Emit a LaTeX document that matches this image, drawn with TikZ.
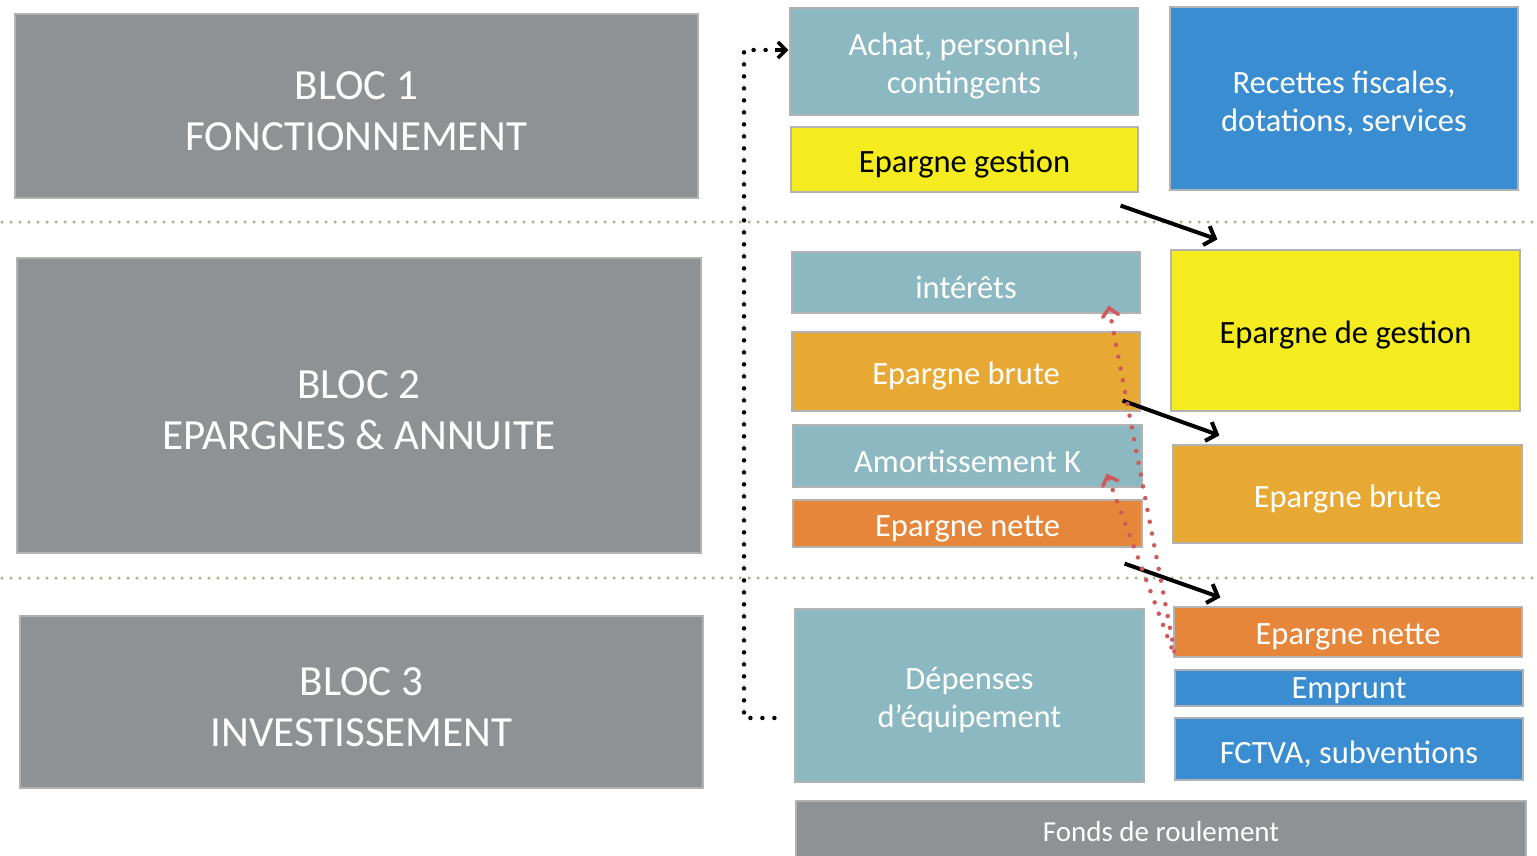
\documentclass[tikz,border=0pt]{standalone}
\usepackage{fontspec}
\setmainfont{Carlito}
\usetikzlibrary{arrows.meta,calc}
\definecolor{blocgray}{HTML}{8E9294}
\definecolor{tealbox}{HTML}{8CB8C1}
\definecolor{yellowbox}{HTML}{F4EC1F}
\definecolor{orangebox}{HTML}{E8A934}
\definecolor{darkorange}{HTML}{E5863A}
\definecolor{bluebox}{HTML}{3A8DD1}
\definecolor{sepdots}{HTML}{B4B48C}
\definecolor{reddots}{HTML}{D05A5A}
\tikzset{
  cell/.style={draw=black!30, line width=1.2pt, inner sep=0pt},
  bloc/.style={cell, fill=blocgray},
  tealcell/.style={cell, fill=tealbox},
  yellowcell/.style={cell, fill=yellowbox},
  orangecell/.style={cell, fill=orangebox},
  darkcell/.style={cell, fill=darkorange},
  bluecell/.style={cell, fill=bluebox},
  % captions sit a little below the middle of each box
  ctext/.style={align=center, text=white, inner sep=0pt, yshift=-5pt,
    font=\fontsize{32.5}{38}\selectfont},
  ktext/.style={ctext, text=black},
  btext/.style={ctext, font=\fontsize{43}{51}\selectfont},
  ftext/.style={ctext, yshift=6pt, font=\fontsize{29}{32}\selectfont},
  flow/.style={line width=4pt, -{Straight Barb[length=9pt,width=20pt,line width=4pt]}},
  backlink/.style={reddots, line width=4.5pt, dash pattern=on 0pt off 12pt, line cap=round,
    -{Straight Barb[length=8pt,width=16pt,line width=3.5pt,line cap=round]}},
  jump/.style={line width=4.5pt, dash pattern=on 0pt off 12pt, line cap=round},
  separator/.style={sepdots, line width=3.5pt, dash pattern=on 0pt off 9pt, line cap=round}
}
\begin{document}
\begin{tikzpicture}[x=1pt,y=-1pt]
\useasboundingbox (0,0) rectangle (1537,856);
\fill[white] (0,0) rectangle (1537,856);

% separators between the three blocks
\draw[separator] (2,222) -- (1535,222);
\draw[separator] (2,578) -- (1535,578);

% left column: the three blocks
\node[bloc, minimum width=683, minimum height=184,
  label={[btext]center:{BLOC 1\\FONCTIONNEMENT}}] (b1) at (356.5,106) {};
\node[bloc, minimum width=684, minimum height=295,
  label={[btext]center:{BLOC 2\\EPARGNES \& ANNUITE}}] (b2) at (359,405.5) {};
\node[bloc, minimum width=683, minimum height=172,
  label={[btext]center:{BLOC 3\\INVESTISSEMENT}}] (b3) at (361.5,702) {};

% middle column: uses
\node[tealcell, minimum width=348, minimum height=107,
  label={[ctext]center:{Achat, personnel,\\contingents}}] (achat) at (964,61.5) {};
\node[yellowcell, minimum width=347, minimum height=65,
  label={[ktext]center:{Epargne gestion}}] (epg) at (964.5,159.5) {};
\node[tealcell, minimum width=348, minimum height=61,
  label={[ctext]center:{intérêts}}] (interets) at (966,282.5) {};
\node[orangecell, minimum width=348, minimum height=79,
  label={[ctext]center:{Epargne brute}}] (epb) at (966,371.5) {};
\node[tealcell, minimum width=349, minimum height=62,
  label={[ctext]center:{Amortissement K}}] (amort) at (967.5,456) {};
\node[darkcell, minimum width=349, minimum height=47,
  label={[ctext]center:{Epargne nette}}] (epn) at (967.5,523.5) {};
\node[tealcell, minimum width=349, minimum height=173,
  label={[ctext]center:{Dépenses\\d’équipement}}] (dep) at (969.5,695.5) {};
\node[bloc, minimum width=730, minimum height=64,
  label={[ftext]center:{Fonds de roulement}}] (fonds) at (1161,833) {};

% right column: resources
\node[bluecell, minimum width=348, minimum height=183,
  label={[ctext]center:{Recettes fiscales,\\dotations, services}}] (recettes) at (1344,98.5) {};
\node[yellowcell, minimum width=349, minimum height=161,
  label={[ktext]center:{Epargne de gestion}}] (epgestion) at (1345.5,330.5) {};
\node[orangecell, minimum width=349, minimum height=98,
  label={[ctext]center:{Epargne brute}}] (epbrute) at (1347.5,494) {};
\node[darkcell, minimum width=348, minimum height=50,
  label={[ctext]center:{Epargne nette}}] (epnette) at (1348,632) {};
\node[bluecell, minimum width=348, minimum height=36,
  label={[ctext, yshift=2pt]center:{Emprunt}}] (emprunt) at (1349,688) {};
\node[bluecell, minimum width=348, minimum height=62,
  label={[ctext]center:{FCTVA, subventions}}] (fctva) at (1349,749) {};

% savings carried over from one block to the next
\draw[flow] ($(epg.south east)+(-18,13)$) -- ($(epgestion.north west)+(47,-10)$);
\draw[flow] ($(epb.south east)+(-18,-11)$) -- ($(epbrute.north west)+(47,-9)$);
\draw[flow] ($(epn.south east)+(-18,16)$) -- ($(epnette.north west)+(47,-9)$);

% loan financing interest and capital repayment
\draw[backlink] ($(emprunt.north west)+(0,-18)$) -- ($(interets.south east)+(-32,-8)$);
\draw[backlink] ($(emprunt.north west)+(-3,-22)$) -- ($(amort.south east)+(-36,-14)$);

% link between equipment spending and operating expenses
\coordinate (jstart) at ($(dep.west)+(-20,22.5)$);
\draw[jump] (jstart) -- (744,718) -- (744,50) -- ($(achat.west)+(-16,-11.5)$);
\draw[line width=3.5pt, -{Straight Barb[length=8pt,width=16pt,line width=3.5pt]}]
  ($(achat.west)+(-14,-11.5)$) -- ($(achat.west)+(-1,-11.5)$);
\end{tikzpicture}
\end{document}
